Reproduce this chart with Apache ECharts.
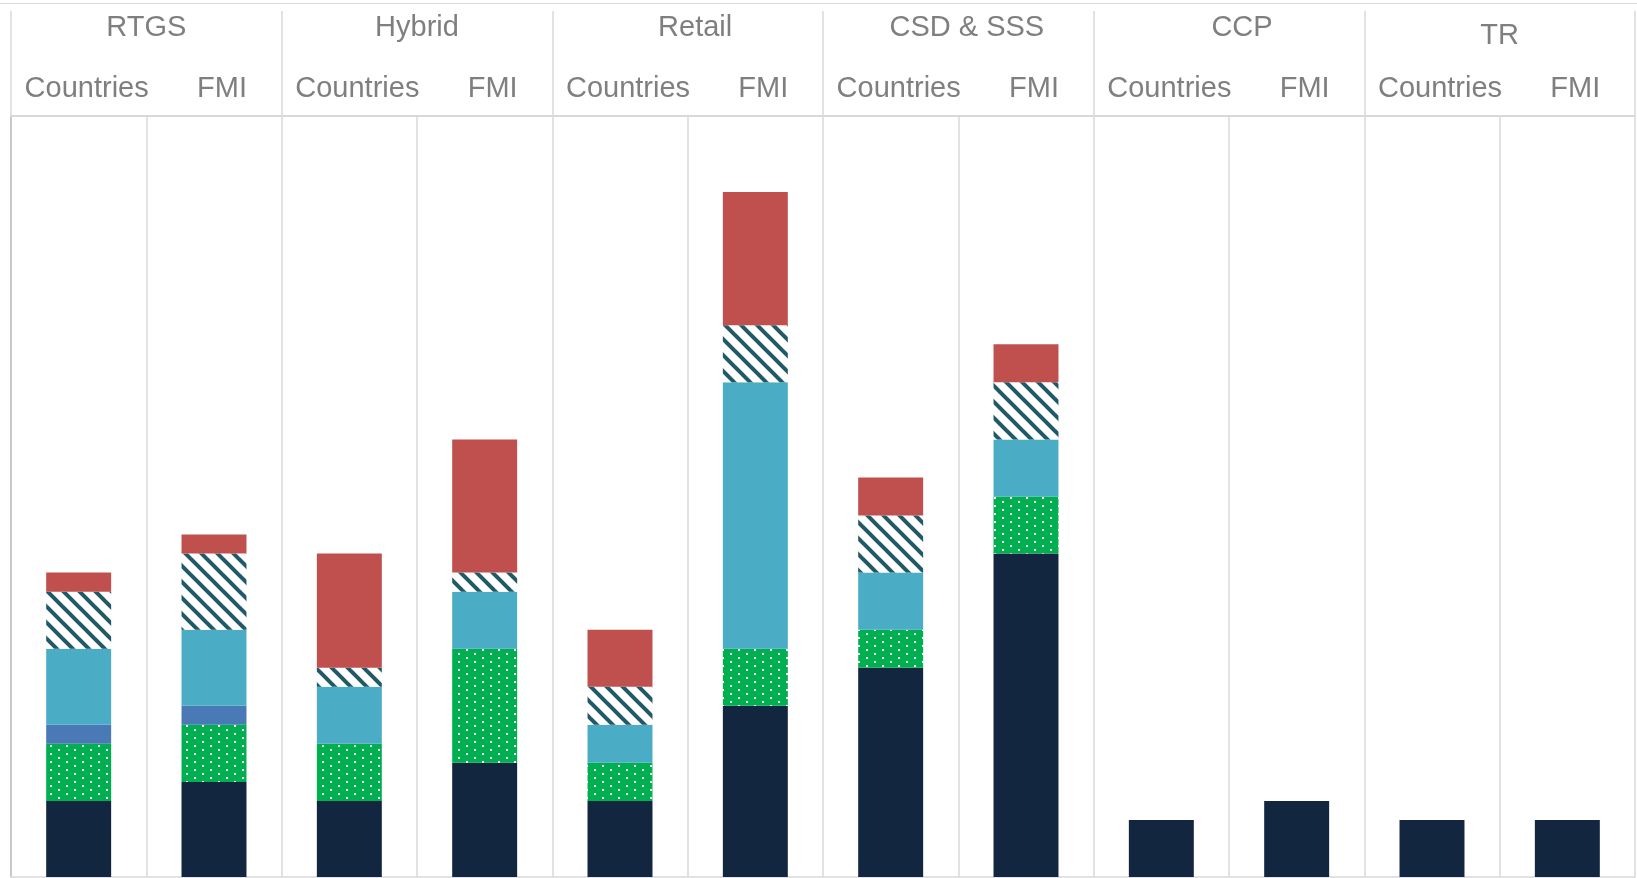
<!DOCTYPE html>
<html>
<head>
<meta charset="utf-8">
<script src="https://cdn.jsdelivr.net/npm/echarts@6/dist/echarts.min.js"></script>
<style>
html,body{margin:0;padding:0;background:#fff;}
#chart{width:1637px;height:878px;}
</style>
</head>
<body>
<div id="chart"></div>
<script>
// ---- data ----
const groups = ['RTGS', 'Hybrid', 'Retail', 'CSD & SSS', 'CCP', 'TR'];
const columns = ['Countries', 'FMI', 'Countries', 'FMI', 'Countries', 'FMI',
                 'Countries', 'FMI', 'Countries', 'FMI', 'Countries', 'FMI'];
const navyVals      = [4, 5, 4, 6, 4, 9, 11, 17, 3, 4, 3, 3];
const dottedVals    = [3, 3, 3, 6, 2, 3, 2, 3, 0, 0, 0, 0];
const blueVals      = [1, 1, 0, 0, 0, 0, 0, 0, 0, 0, 0, 0];
const lightBlueVals = [4, 4, 3, 3, 2, 14, 3, 3, 0, 0, 0, 0];
const hatchVals     = [3, 4, 1, 1, 2, 3, 3, 3, 0, 0, 0, 0];
const redVals       = [1, 1, 6, 7, 3, 7, 2, 2, 0, 0, 0, 0];

// ---- patterns ----
function dotPattern() {
  const c = document.createElement('canvas');
  c.width = 16; c.height = 8;
  const g = c.getContext('2d');
  g.fillStyle = '#00b050'; g.fillRect(0, 0, 16, 8);
  g.fillStyle = '#ffffff';
  g.fillRect(2, 1, 2, 2);
  g.fillRect(10, 5, 2, 2);
  return c;
}
function hatchPattern() {
  const c = document.createElement('canvas');
  c.width = 16; c.height = 16;
  const g = c.getContext('2d');
  g.fillStyle = '#ffffff'; g.fillRect(0, 0, 16, 16);
  g.strokeStyle = '#215968'; g.lineWidth = 4;
  for (const o of [-16, 0, 16]) {
    g.beginPath(); g.moveTo(o - 4, -4); g.lineTo(o + 20, 20); g.stroke();
  }
  return c;
}

const FONT = "'Liberation Sans', Arial, sans-serif";
const chart = echarts.init(document.getElementById('chart'), null, {renderer: 'canvas'});

function bar(name, data, color) {
  return {
    name: name, type: 'bar', stack: 'total', data: data,
    barWidth: '48%', xAxisIndex: 0, yAxisIndex: 0,
    itemStyle: {color: color}, emphasis: {disabled: true}
  };
}

// header label nudges (layout only)
const groupLabelPad = {
  'Retail': [0, 0, 0, 15],
  'CSD & SSS': [0, 0, 0, 17],
  'CCP': [0, 0, 0, 26]
};
const labelStyle = {fontSize: 29, fontFamily: FONT, color: '#7f7f7f', verticalAlign: 'middle'};

chart.setOption({
  animation: false,
  backgroundColor: '#ffffff',
  grid: {left: 11, right: 2, top: 116, bottom: 1, containLabel: false, outerBoundsMode: 'none'},
  graphic: [{
    type: 'line', silent: true,
    shape: {x1: 0, y1: 3.5, x2: 1637, y2: 3.5},
    style: {stroke: '#d9d9d9', lineWidth: 1}
  }],
  xAxis: [{
    type: 'category', position: 'top', data: columns,
    axisLine: {show: false},
    axisTick: {show: false},
    splitLine: {show: true, interval: 0, lineStyle: {color: '#d9d9d9', width: 1.5}},
    axisLabel: Object.assign({interval: 0, margin: 27, padding: [0, 0, 0, 16]}, labelStyle)
  }, {
    type: 'category', position: 'top',
    data: groups.map(g => groupLabelPad[g]
      ? {value: g, textStyle: Object.assign({padding: groupLabelPad[g]}, labelStyle)}
      : g),
    axisLine: {show: true, lineStyle: {color: '#d9d9d9', width: 2}},
    axisTick: {show: true, interval: 0, length: 105, lineStyle: {color: '#d9d9d9', width: 1.5}},
    splitLine: {show: false},
    axisLabel: Object.assign({
      interval: 0, margin: 88,
      formatter: v => v === 'TR' ? '{low|' + v + '}' : v,
      rich: {low: {fontSize: 29, fontFamily: FONT, color: '#7f7f7f', padding: [15, 0, 0, 0]}}
    }, labelStyle)
  }, {
    type: 'category', position: 'bottom', data: columns,
    axisLine: {show: true, lineStyle: {color: '#d9d9d9', width: 1.5}},
    axisTick: {show: false}, axisLabel: {show: false}, splitLine: {show: false}
  }],
  yAxis: {
    type: 'value', min: 0, max: 40,
    axisLine: {show: true, lineStyle: {color: '#bfbfbf', width: 1.5}},
    axisTick: {show: false}, axisLabel: {show: false}, splitLine: {show: false}
  },
  series: [
    bar('Navy', navyVals, '#12263f'),
    bar('Green dotted', dottedVals, {image: dotPattern(), repeat: 'repeat'}),
    bar('Blue', blueVals, '#4a7ab5'),
    bar('Light blue', lightBlueVals, '#4bacc6'),
    bar('Hatched', hatchVals, {image: hatchPattern(), repeat: 'repeat'}),
    bar('Red', redVals, '#c0504d')
  ]
});
</script>
</body>
</html>
